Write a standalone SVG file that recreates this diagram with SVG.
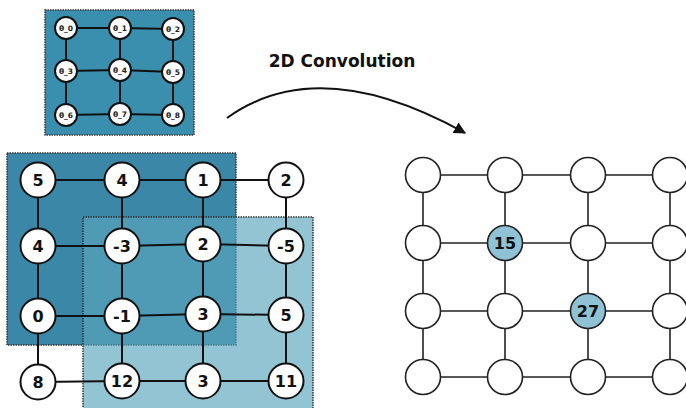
<svg xmlns="http://www.w3.org/2000/svg" width="686" height="408" viewBox="0 0 686 408">
<style>
.e{stroke:#111;stroke-width:2;fill:none}
.er{stroke:#222;stroke-width:1.6;fill:none}
.n{fill:#fff;stroke:#111;stroke-width:2}
.nr{fill:#fff;stroke:#222;stroke-width:1.6}
.hl{fill:#8fc2d4;stroke:#222;stroke-width:1.6}
.t{font-family:"DejaVu Sans","Liberation Sans",Arial,sans-serif;font-weight:bold;font-size:16px;fill:#111;text-anchor:middle;dominant-baseline:central}
.tk{font-family:"DejaVu Sans","Liberation Sans",Arial,sans-serif;font-weight:bold;font-size:7.5px;fill:#222;text-anchor:middle;dominant-baseline:central}
.box{stroke:#333;stroke-width:1.5;stroke-dasharray:1.5 1}
</style>
<defs>
<marker id="ah" viewBox="0 0 10 10" refX="9" refY="5" markerWidth="6" markerHeight="6" orient="auto">
<path d="M0,0 L10,5 L0,10 Z" fill="#111"/>
</marker>
</defs>

<g id="kernel">
<rect class="box" x="45" y="10" width="149" height="125" fill="#3a8fae"/>
<g class="e" stroke-width="1.8">
<line x1="66" y1="28" x2="120" y2="28"/><line x1="120" y1="28" x2="173" y2="29"/>
<line x1="66" y1="71" x2="120" y2="70"/><line x1="120" y1="70" x2="173" y2="72"/>
<line x1="66" y1="115" x2="120" y2="114"/><line x1="120" y1="114" x2="173" y2="115"/>
<line x1="66" y1="28" x2="66" y2="115"/><line x1="120" y1="28" x2="120" y2="114"/><line x1="173" y1="29" x2="173" y2="115"/>
</g>
<g id="k0"><circle class="n" cx="66" cy="28" r="11"/><text class="tk" x="66" y="28">θ_0</text></g>
<g id="k1"><circle class="n" cx="120" cy="28" r="11"/><text class="tk" x="120" y="28">θ_1</text></g>
<g id="k2"><circle class="n" cx="173" cy="29" r="11"/><text class="tk" x="173" y="29">θ_2</text></g>
<g id="k3"><circle class="n" cx="66" cy="71" r="11"/><text class="tk" x="66" y="71">θ_3</text></g>
<g id="k4"><circle class="n" cx="120" cy="70" r="11"/><text class="tk" x="120" y="70">θ_4</text></g>
<g id="k5"><circle class="n" cx="173" cy="72" r="11"/><text class="tk" x="173" y="72">θ_5</text></g>
<g id="k6"><circle class="n" cx="66" cy="115" r="11"/><text class="tk" x="66" y="115">θ_6</text></g>
<g id="k7"><circle class="n" cx="120" cy="114" r="11"/><text class="tk" x="120" y="114">θ_7</text></g>
<g id="k8"><circle class="n" cx="173" cy="115" r="11"/><text class="tk" x="173" y="115">θ_8</text></g>
</g>

<g id="title"><text x="342" y="61" font-family="DejaVu Sans,Liberation Sans,Arial,sans-serif" font-weight="bold" font-size="17" text-anchor="middle" dominant-baseline="central" fill="#111">2D Convolution</text></g>

<g id="arrow"><path d="M227,118 Q319,52 465,133" class="e" stroke-width="1.8" marker-end="url(#ah)"/></g>

<g id="windows">
<rect class="box" x="7" y="153" width="229" height="192" fill="#3a87a8"/>
<rect class="box" x="83" y="217" width="230" height="195" fill="rgb(91,166,190)" fill-opacity="0.66"/>
</g>

<g id="connectors">
<g class="e">
<line x1="38" y1="180" x2="122" y2="180"/><line x1="122" y1="180" x2="203" y2="180"/><line x1="203" y1="180" x2="286" y2="180"/>
<line x1="38" y1="246" x2="122" y2="246"/><line x1="122" y1="246" x2="203" y2="244"/><line x1="203" y1="244" x2="286" y2="246"/>
<line x1="38" y1="316" x2="122" y2="316"/><line x1="122" y1="316" x2="203" y2="314"/><line x1="203" y1="314" x2="286" y2="315"/>
<line x1="38" y1="382" x2="122" y2="381"/><line x1="122" y1="381" x2="203" y2="381"/><line x1="203" y1="381" x2="286" y2="381"/>
<line x1="38" y1="180" x2="38" y2="382"/><line x1="122" y1="180" x2="122" y2="381"/><line x1="203" y1="180" x2="203" y2="381"/><line x1="286" y1="180" x2="286" y2="381"/>
</g>
<g class="er">
<line x1="423" y1="175" x2="670" y2="175"/><line x1="423" y1="243" x2="670" y2="243"/><line x1="423" y1="311" x2="670" y2="311"/><line x1="423" y1="377" x2="670" y2="377"/>
<line x1="423" y1="175" x2="423" y2="377"/><line x1="505" y1="175" x2="505" y2="377"/><line x1="588" y1="175" x2="588" y2="377"/><line x1="670" y1="175" x2="670" y2="377"/>
</g>
</g>

<g id="a1"><circle class="n" cx="38" cy="180" r="17.5"/><text class="t" x="38" y="180">5</text></g>
<g id="a2"><circle class="n" cx="122" cy="180" r="17.5"/><text class="t" x="122" y="180">4</text></g>
<g id="a3"><circle class="n" cx="203" cy="180" r="17.5"/><text class="t" x="203" y="180">1</text></g>
<g id="a4"><circle class="n" cx="286" cy="180" r="17.5"/><text class="t" x="286" y="180">2</text></g>
<g id="b1"><circle class="n" cx="38" cy="246" r="17.5"/><text class="t" x="38" y="246">4</text></g>
<g id="b2"><circle class="n" cx="122" cy="246" r="17.5"/><text class="t" x="122" y="246">-3</text></g>
<g id="b3"><circle class="n" cx="203" cy="244" r="17.5"/><text class="t" x="203" y="244">2</text></g>
<g id="b4"><circle class="n" cx="286" cy="246" r="17.5"/><text class="t" x="286" y="246">-5</text></g>
<g id="c1"><circle class="n" cx="38" cy="316" r="17.5"/><text class="t" x="38" y="316">0</text></g>
<g id="c2"><circle class="n" cx="122" cy="316" r="17.5"/><text class="t" x="122" y="316">-1</text></g>
<g id="c3"><circle class="n" cx="203" cy="314" r="17.5"/><text class="t" x="203" y="314">3</text></g>
<g id="c4"><circle class="n" cx="286" cy="315" r="17.5"/><text class="t" x="286" y="315">5</text></g>
<g id="d1"><circle class="n" cx="38" cy="382" r="17.5"/><text class="t" x="38" y="382">8</text></g>
<g id="d2"><circle class="n" cx="122" cy="381" r="17.5"/><text class="t" x="122" y="381">12</text></g>
<g id="d3"><circle class="n" cx="203" cy="381" r="17.5"/><text class="t" x="203" y="381">3</text></g>
<g id="d4"><circle class="n" cx="286" cy="381" r="17.5"/><text class="t" x="286" y="381">11</text></g>

<g id="r11"><circle class="nr" cx="423" cy="175" r="17.5"/></g>
<g id="r12"><circle class="nr" cx="505" cy="175" r="17.5"/></g>
<g id="r13"><circle class="nr" cx="588" cy="175" r="17.5"/></g>
<g id="r14"><circle class="nr" cx="670" cy="175" r="17.5"/></g>
<g id="r21"><circle class="nr" cx="423" cy="243" r="17.5"/></g>
<g id="r22"><circle class="hl" cx="505" cy="243" r="17.5"/><text class="t" x="505" y="243">15</text></g>
<g id="r23"><circle class="nr" cx="588" cy="243" r="17.5"/></g>
<g id="r24"><circle class="nr" cx="670" cy="243" r="17.5"/></g>
<g id="r31"><circle class="nr" cx="423" cy="311" r="17.5"/></g>
<g id="r32"><circle class="nr" cx="505" cy="311" r="17.5"/></g>
<g id="r33"><circle class="hl" cx="588" cy="311" r="17.5"/><text class="t" x="588" y="311">27</text></g>
<g id="r34"><circle class="nr" cx="670" cy="311" r="17.5"/></g>
<g id="r41"><circle class="nr" cx="423" cy="377" r="17.5"/></g>
<g id="r42"><circle class="nr" cx="505" cy="377" r="17.5"/></g>
<g id="r43"><circle class="nr" cx="588" cy="377" r="17.5"/></g>
<g id="r44"><circle class="nr" cx="670" cy="377" r="17.5"/></g>
</svg>
